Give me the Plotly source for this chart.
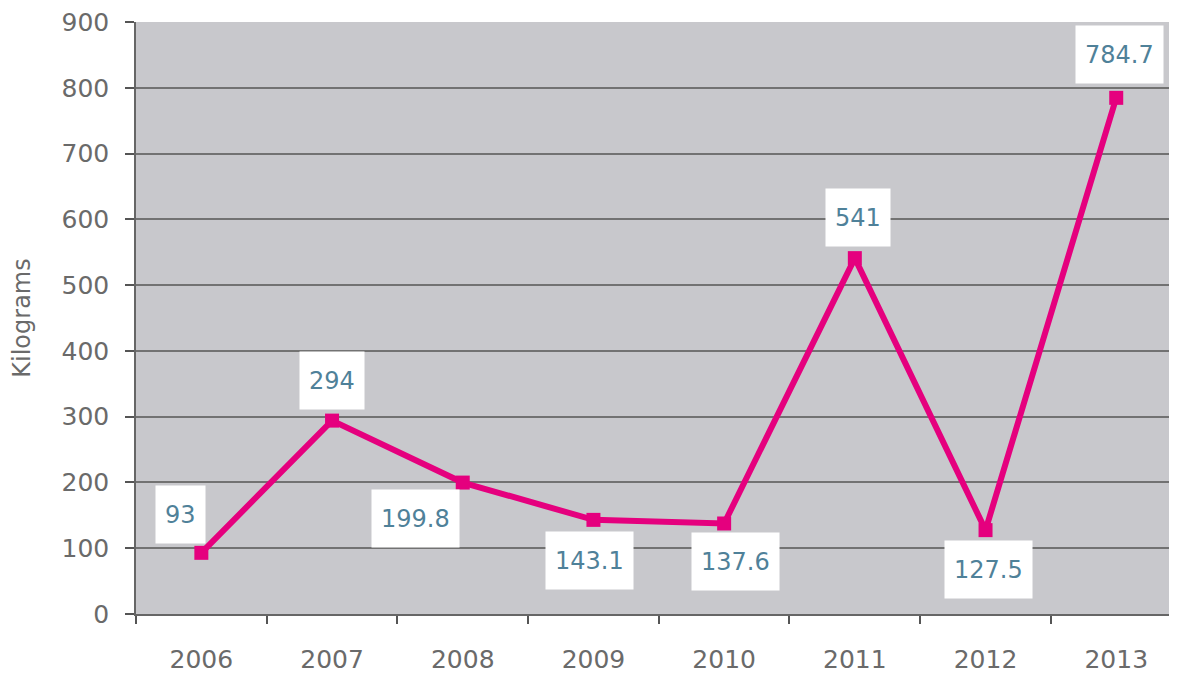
import plotly.graph_objects as go

years = ["2006", "2007", "2008", "2009", "2010", "2011", "2012", "2013"]
values = [93, 294, 199.8, 143.1, 137.6, 541, 127.5, 784.7]
labels = ["93", "294", "199.8", "143.1", "137.6", "541", "127.5", "784.7"]
# label box offsets (px) relative to each point
offsets = [(-21, 38), (0, 40), (-47, -36), (-4, -41), (11, -38), (3, 41), (3, -39), (3, 43)]

fig = go.Figure()
fig.add_trace(go.Scatter(
    x=years, y=values, mode="lines+markers",
    line=dict(color="#e5007e", width=6),
    marker=dict(symbol="square", size=14, color="#e5007e"),
    showlegend=False, hoverinfo="skip"))

def box_width(t):
    digits = sum(c.isdigit() for c in t)
    others = len(t) - digits
    return 15.3 * digits + 7.6 * others + 18

annotations = []
for i, (y, t, (dx, dy)) in enumerate(zip(values, labels, offsets)):
    annotations.append(dict(x=i, y=y, xref="x", yref="y", text=t, showarrow=False,
                            xshift=dx, yshift=dy, bgcolor="white", borderpad=0,
                            width=box_width(t), height=57,
                            font=dict(family="DejaVu Sans", size=24, color="#4f8199")))

fig.update_layout(
    width=1169, height=669,
    margin=dict(l=128, r=0, t=14, b=63),
    paper_bgcolor="white", plot_bgcolor="#c8c8cc",
    font=dict(family="DejaVu Sans", size=25, color="#6a6a6a"),
    annotations=annotations,
    xaxis=dict(type="category", range=[-0.5, 7.465], tickson="boundaries",
               ticks="outside", ticklen=8, tickcolor="#555", tickwidth=1.5, showgrid=False,
               showline=True, linecolor="#666", linewidth=1.5, ticklabelstandoff=22),
    yaxis=dict(range=[0, 900], dtick=100, ticks="outside", ticklen=9, tickcolor="#555",
               tickwidth=1.5, showgrid=True, gridcolor="#727272", gridwidth=2, zeroline=False,
               showline=True, linecolor="#666", linewidth=1.5, ticklabelstandoff=11,
               ticklabeloverflow="allow",
               title=dict(text="Kilograms", standoff=24, font=dict(size=24, color="#6a6a6a"))),
)

fig.write_html("out.html")
